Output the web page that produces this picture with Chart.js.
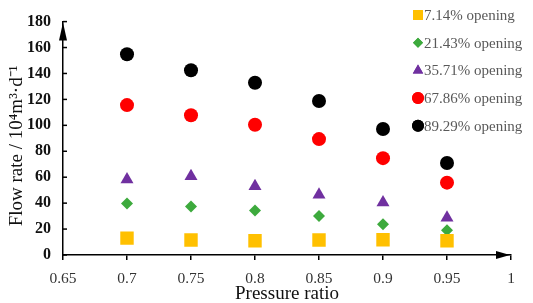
<!DOCTYPE html>
<html>
<head>
<meta charset="utf-8">
<script src="https://cdn.jsdelivr.net/npm/chart.js@4.4.0/dist/chart.umd.min.js"></script>
<style>
  html, body { margin: 0; padding: 0; background: #fff; }
  #wrap { width: 533px; height: 303px; position: relative; }
</style>
</head>
<body>
<div id="wrap"><canvas id="myChart"></canvas></div>
<script>
// data
const pressureRatio = [0.7, 0.75, 0.8, 0.85, 0.9, 0.95];
const opening714 = [13, 11.5, 11, 11.5, 11.8, 11];
const opening2143 = [39.7, 37.5, 34.3, 30.1, 23.7, 19.1];
const opening3571 = [58.3, 60.7, 53.1, 46.5, 40.4, 28.7];
const opening6786 = [115.6, 107.8, 100.4, 89.4, 74.7, 55.8];
const opening8929 = [154.8, 142.5, 132.8, 118.8, 97.2, 71];
const seriesLabels = ['7.14% opening', '21.43% opening', '35.71% opening', '67.86% opening', '89.29% opening'];
const xTicks = [0.65, 0.7, 0.75, 0.8, 0.85, 0.9, 0.95, 1];
const yTicks = [0, 20, 40, 60, 80, 100, 120, 140, 160, 180];
const yTitle = 'Flow rate / 10⁴m³·d⁻¹';

const serif = "'Liberation Serif', 'Times New Roman', serif";

const toPoints = vals => vals.map((v, i) => ({ x: pressureRatio[i], y: v }));

const styles = [
  { color: '#FFC000', pointStyle: 'rect', radius: 9.5, legendRadius: 7 },
  { color: '#3DAA3D', pointStyle: 'rectRot', radius: 6, legendRadius: 5 },
  { color: '#7030A0', pointStyle: 'triangle', radius: 7.5, legendRadius: 6 },
  { color: '#FF0000', pointStyle: 'circle', radius: 7, legendRadius: 6 },
  { color: '#000000', pointStyle: 'circle', radius: 7, legendRadius: 6 }
];
const allSeries = [opening714, opening2143, opening3571, opening6786, opening8929];

const data = {
  datasets: allSeries.map((vals, i) => ({
    label: seriesLabels[i],
    data: toPoints(vals),
    backgroundColor: styles[i].color,
    borderColor: styles[i].color,
    borderWidth: 0,
    pointStyle: styles[i].pointStyle,
    pointRadius: styles[i].radius,
    pointHoverRadius: styles[i].radius
  }))
};

// axis arrows, inner y ticks, y title and the legend
const extras = {
  id: 'extras',
  afterDraw(chart) {
    const { ctx, chartArea: { left, right, top, bottom } } = chart;
    const yScale = chart.scales.y;
    ctx.save();
    ctx.fillStyle = '#000';
    ctx.strokeStyle = '#000';
    ctx.lineWidth = 1.5;
    // y ticks pointing inwards
    yTicks.forEach(t => {
      const py = yScale.getPixelForValue(t);
      ctx.beginPath();
      ctx.moveTo(left, py);
      ctx.lineTo(left + 4, py);
      ctx.stroke();
    });
    // y arrow
    ctx.beginPath();
    ctx.moveTo(left, top + 1);
    ctx.lineTo(left - 4, top + 19);
    ctx.lineTo(left + 4, top + 19);
    ctx.closePath();
    ctx.fill();
    // x arrow
    ctx.beginPath();
    ctx.moveTo(right - 1, bottom);
    ctx.lineTo(right - 15, bottom - 4);
    ctx.lineTo(right - 15, bottom + 4);
    ctx.closePath();
    ctx.fill();
    // y title
    ctx.save();
    ctx.translate(17, 146);
    ctx.rotate(-Math.PI / 2);
    ctx.font = '19px ' + serif;
    ctx.fillStyle = '#111';
    ctx.textAlign = 'center';
    ctx.textBaseline = 'middle';
    ctx.fillText(yTitle, 0, 0);
    ctx.restore();
    // legend
    ctx.font = '15px ' + serif;
    ctx.textBaseline = 'middle';
    ctx.textAlign = 'left';
    seriesLabels.forEach((lab, i) => {
      const ly = 15 + i * 27.7;
      const s = styles[i];
      ctx.fillStyle = s.color;
      Chart.helpers.drawPoint(ctx, { pointStyle: s.pointStyle, radius: s.legendRadius, borderWidth: 0 }, 418, ly);
      ctx.fill();
      ctx.fillStyle = '#595959';
      ctx.fillText(lab, 424, ly + 1);
    });
    ctx.restore();
  }
};

const config = {
  type: 'scatter',
  data,
  options: {
    responsive: true,
    maintainAspectRatio: false,
    animation: false,
    layout: { padding: { top: 9, right: 22, left: 0, bottom: 0 } },
    plugins: {
      legend: { display: false },
      tooltip: { enabled: false }
    },
    scales: {
      x: {
        type: 'linear',
        min: 0.65,
        max: 1,
        afterBuildTicks: axis => { axis.ticks = xTicks.map(v => ({ value: v })); },
        afterFit: axis => { axis.height = 48; },
        border: { display: true, color: '#000', width: 1.5 },
        grid: { drawOnChartArea: false, drawTicks: true, tickLength: 5, color: '#000', lineWidth: 1.5 },
        ticks: {
          color: '#333',
          font: { family: serif, size: 15.5 },
          padding: 10,
          maxRotation: 0,
          callback: v => String(Math.round(v * 100) / 100)
        },
        title: {
          display: true,
          text: 'Pressure ratio',
          color: '#111',
          font: { family: serif, size: 19 },
          padding: { top: -3, bottom: -2 }
        }
      },
      y: {
        min: 0,
        max: 180,
        afterBuildTicks: axis => { axis.ticks = yTicks.map(v => ({ value: v })); },
        afterFit: axis => { axis.width = 63; },
        border: { display: true, color: '#000', width: 1.5 },
        grid: { drawOnChartArea: false, drawTicks: false },
        ticks: {
          color: '#111',
          font: { family: serif, size: 16, weight: 'bold' },
          padding: 12
        }
      }
    }
  },
  plugins: [extras]
};

const myChart = new Chart(document.getElementById('myChart'), config);
</script>
</body>
</html>
